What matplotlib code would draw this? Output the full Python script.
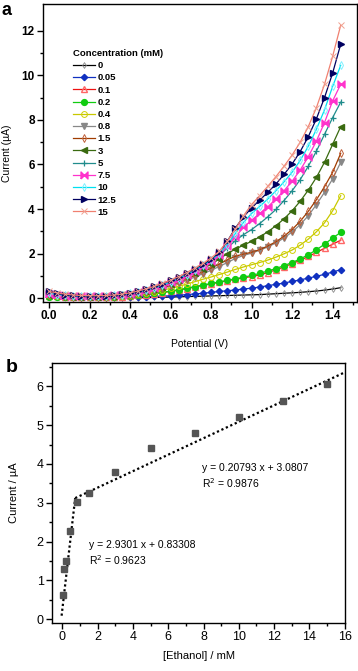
import numpy as np
import matplotlib
matplotlib.use("Agg")
import matplotlib.pyplot as plt

plt.rcParams['font.family'] = ['Liberation Sans', 'DejaVu Sans']

# ---------------- Panel a data ----------------
potential = [0.00, 0.04, 0.08, 0.12, 0.16, 0.20, 0.24, 0.28, 0.32, 0.36, 0.40, 0.44, 0.48,
             0.52, 0.56, 0.60, 0.64, 0.68, 0.72, 0.76, 0.80, 0.84, 0.88, 0.92, 0.96, 1.00,
             1.04, 1.08, 1.12, 1.16, 1.20, 1.24, 1.28, 1.32, 1.36, 1.40, 1.44]

conc_labels = ["0", "0.05", "0.1", "0.2", "0.4", "0.8", "1.5", "3", "5", "7.5", "10", "12.5", "15"]

i_0 = [0.10,0.08,0.06,0.05,0.04,0.03,0.03,0.02,0.02,0.02,0.02,0.02,0.03,0.03,0.04,0.05,0.06,0.07,0.08,
       0.09,0.10,0.11,0.12,0.13,0.14,0.15,0.16,0.18,0.20,0.22,0.24,0.26,0.29,0.32,0.36,0.41,0.47]
i_005 = [0.12,0.10,0.07,0.05,0.04,0.03,0.03,0.03,0.03,0.04,0.05,0.06,0.07,0.08,0.09,0.11,0.13,0.16,0.19,
         0.22,0.26,0.30,0.33,0.37,0.41,0.45,0.50,0.56,0.62,0.68,0.75,0.82,0.90,0.98,1.07,1.17,1.28]
i_01 = [0.10,0.08,0.06,0.04,0.03,0.03,0.03,0.04,0.05,0.07,0.09,0.12,0.16,0.20,0.25,0.30,0.36,0.43,0.50,
        0.57,0.64,0.71,0.78,0.85,0.91,0.97,1.04,1.15,1.27,1.40,1.55,1.70,1.87,2.05,2.24,2.42,2.60]
i_02 = [0.05,0.04,0.03,0.03,0.03,0.03,0.04,0.05,0.06,0.08,0.10,0.13,0.17,0.21,0.26,0.32,0.38,0.45,0.52,
        0.59,0.66,0.73,0.80,0.87,0.94,1.02,1.11,1.22,1.33,1.46,1.60,1.76,1.95,2.17,2.42,2.70,2.95]
i_04 = [0.12,0.10,0.08,0.06,0.05,0.05,0.05,0.06,0.08,0.11,0.14,0.18,0.23,0.29,0.36,0.44,0.53,0.63,0.74,
        0.85,0.95,1.06,1.17,1.29,1.40,1.50,1.60,1.71,1.84,1.99,2.16,2.38,2.65,2.98,3.38,3.92,4.60]
i_08 = [0.15,0.12,0.09,0.07,0.06,0.06,0.06,0.07,0.09,0.12,0.16,0.21,0.27,0.35,0.44,0.54,0.66,0.80,0.95,
        1.10,1.25,1.42,1.60,1.78,1.92,2.02,2.15,2.30,2.48,2.70,2.97,3.30,3.70,4.20,4.75,5.35,6.10]
i_15 = [0.15,0.12,0.09,0.07,0.06,0.06,0.06,0.07,0.09,0.12,0.16,0.22,0.29,0.37,0.47,0.58,0.71,0.86,1.02,
        1.18,1.35,1.53,1.72,1.88,1.98,2.06,2.18,2.34,2.53,2.78,3.08,3.45,3.90,4.42,5.00,5.65,6.50]
i_3 = [0.15,0.12,0.09,0.07,0.06,0.06,0.07,0.08,0.10,0.13,0.18,0.24,0.32,0.41,0.52,0.65,0.80,0.97,1.15,
       1.33,1.52,1.75,2.00,2.20,2.38,2.55,2.75,2.98,3.25,3.56,3.92,4.35,4.85,5.42,6.10,6.90,7.70]
i_5 = [0.18,0.14,0.10,0.08,0.07,0.07,0.08,0.09,0.11,0.14,0.19,0.25,0.33,0.43,0.55,0.69,0.85,1.02,1.20,
       1.40,1.62,1.90,2.25,2.58,2.85,3.08,3.35,3.65,3.98,4.38,4.82,5.32,5.92,6.60,7.35,8.10,8.80]
i_75 = [0.20,0.15,0.11,0.09,0.08,0.08,0.08,0.10,0.12,0.15,0.20,0.27,0.35,0.45,0.57,0.71,0.87,1.05,1.24,
        1.44,1.66,1.95,2.32,2.75,3.18,3.50,3.80,4.10,4.45,4.82,5.25,5.75,6.35,7.05,7.88,8.85,9.60]
i_10 = [0.22,0.16,0.12,0.10,0.09,0.09,0.09,0.10,0.12,0.16,0.21,0.28,0.36,0.46,0.58,0.72,0.88,1.06,1.26,
        1.47,1.70,2.00,2.40,2.90,3.40,3.80,4.12,4.45,4.82,5.22,5.65,6.18,6.82,7.58,8.45,9.50,10.45]
i_125 = [0.30,0.22,0.16,0.12,0.10,0.10,0.10,0.11,0.14,0.18,0.24,0.32,0.42,0.53,0.65,0.80,0.96,1.13,1.32,
         1.52,1.75,2.05,2.55,3.15,3.65,4.05,4.40,4.75,5.12,5.55,6.02,6.58,7.25,8.05,9.00,10.10,11.40]
i_150 = [0.30,0.24,0.18,0.14,0.12,0.11,0.11,0.12,0.14,0.18,0.24,0.32,0.42,0.53,0.66,0.81,0.97,1.15,1.35,
         1.56,1.80,2.10,2.55,3.10,3.70,4.20,4.60,5.02,5.45,5.92,6.42,7.00,7.70,8.55,9.60,10.85,12.25]

currents = [i_0, i_005, i_01, i_02, i_04, i_08, i_15, i_3, i_5, i_75, i_10, i_125, i_150]

# ---------------- Panel b data ----------------
ethanol = [0.05, 0.1, 0.2, 0.4, 0.8, 1.5, 3, 5, 7.5, 10, 12.5, 15]
peak_current = [0.63, 1.29, 1.49, 2.28, 3.02, 3.24, 3.80, 4.40, 4.80, 5.20, 5.63, 6.05]
fit1_x = [-0.05, 0.72]
fit1_y = [0.09, 3.12]
fit2_x = [0.72, 16.2]
fit2_y = [3.12, 6.40]

bowtie = [(-1, -1), (-1, 1), (1, -1), (1, 1), (-1, -1)]

styles = [
    dict(color='black', marker='d', mfc='none', mec='#888888', ms=3, mew=0.6),
    dict(color='#1030c0', marker='D', mfc='#1030c0', mec='#1030c0', ms=3.2),
    dict(color='#ee1111', marker='^', mfc='none', mec='#ff6666', ms=4),
    dict(color='#11cc11', marker='o', mfc='#11cc11', mec='#11cc11', ms=4.2),
    dict(color='#c8c800', marker='o', mfc='none', mec='#d0d000', ms=4.2, mew=0.7),
    dict(color='#888888', marker='v', mfc='#888888', mec='#888888', ms=4.2),
    dict(color='#a03c00', marker='d', mfc='none', mec='#c0603a', ms=4, mew=0.7),
    dict(color='#3a6a10', marker='<', mfc='#3a6a10', mec='#3a6a10', ms=4),
    dict(color='#208c8c', marker='+', mfc='#208c8c', mec='#208c8c', ms=5, mew=0.9),
    dict(color='#ff33cc', marker=bowtie, mfc='#ff33cc', mec='#ff33cc', ms=5),
    dict(color='#00e0f0', marker='d', mfc='none', mec='#80f0ff', ms=4, mew=0.7),
    dict(color='#000060', marker='>', mfc='#000060', mec='#000060', ms=4.5),
    dict(color='#f08070', marker='x', mfc='#f08070', mec='#f0a090', ms=4, mew=0.7),
]

fig = plt.figure(figsize=(3.58, 6.71), dpi=100)

# ---------- Panel a ----------
ax1 = fig.add_axes([0.120, 0.550, 0.877, 0.444])
for lab, cur, st in zip(conc_labels, currents, styles):
    ax1.plot(potential, cur, lw=0.9, label=lab, **st)
ax1.set_xlim(-0.03, 1.52)
ax1.set_ylim(-0.17, 13.2)
ax1.set_xticks(np.arange(0, 1.41, 0.2))
ax1.set_xticks(np.arange(0.1, 1.51, 0.2), minor=True)
ax1.set_yticks(np.arange(0, 13, 2))
ax1.set_yticks(np.arange(1, 13, 2), minor=True)
ax1.set_xticklabels(["%.1f" % v for v in np.arange(0, 1.41, 0.2)], fontweight='bold')
ax1.set_yticklabels(["%d" % v for v in np.arange(0, 13, 2)], fontweight='bold')
ax1.tick_params(axis='both', which='major', direction='out', length=4, width=1, labelsize=8.5, pad=2)
ax1.tick_params(axis='both', which='minor', direction='out', length=2.5, width=1)
ax1.set_xlabel("Potential (V)", fontsize=7.5, labelpad=12)
ax1.set_ylabel("Current (µA)", fontsize=7.5, labelpad=7)
for sp in ax1.spines.values():
    sp.set_linewidth(1.0)
leg = ax1.legend(loc='upper left', bbox_to_anchor=(0.08, 0.865), frameon=False,
                 fontsize=6.8, title="Concentration (mM)", title_fontsize=6.8,
                 handlelength=2.3, handletextpad=0.3, labelspacing=0.34,
                 borderpad=0, alignment='left')
for t in leg.get_texts():
    t.set_fontweight('bold')
leg.get_title().set_fontweight('bold')

fig.text(0.005, 0.997, "a", fontsize=13, fontweight='bold', va='top', ha='left')

# ---------- Panel b ----------
ax2 = fig.add_axes([0.145, 0.072, 0.820, 0.387])
ax2.plot(fit1_x, fit1_y, color='black', lw=1.6, ls=(0, (1, 1.2)))
ax2.plot(fit2_x, fit2_y, color='black', lw=1.6, ls=(0, (1, 1.2)))
ax2.plot(ethanol, peak_current, ls='none', marker='s', ms=5, mfc='#555555', mec='#555555')
ax2.set_xlim(-0.6, 16.05)
ax2.set_ylim(-0.09, 6.6)
ax2.set_xticks(np.arange(0, 17, 2))
ax2.set_xticks(np.arange(1, 16, 2), minor=True)
ax2.set_yticks(np.arange(0, 7, 1))
ax2.set_yticks(np.arange(0.5, 6.6, 1), minor=True)
ax2.tick_params(axis='both', which='major', direction='out', length=4, width=1, labelsize=9, pad=2)
ax2.tick_params(axis='both', which='minor', direction='out', length=2.5, width=1)
ax2.set_xlabel("[Ethanol] / mM", fontsize=8, labelpad=6)
ax2.set_ylabel("Current / µA", fontsize=8, labelpad=13)
for sp in ax2.spines.values():
    sp.set_linewidth(1.0)
ax2.text(7.9, 3.89, "y = 0.20793 x + 3.0807", fontsize=7.5, va='center')
ax2.text(7.9, 3.50, "R$^2$ = 0.9876", fontsize=7.5, va='center')
ax2.text(1.5, 1.90, "y = 2.9301 x + 0.83308", fontsize=7.5, va='center')
ax2.text(1.5, 1.51, "R$^2$ = 0.9623", fontsize=7.5, va='center')

fig.text(0.015, 0.465, "b", fontsize=14, fontweight='bold', va='top', ha='left')

fig.savefig("out.png", dpi=100)
